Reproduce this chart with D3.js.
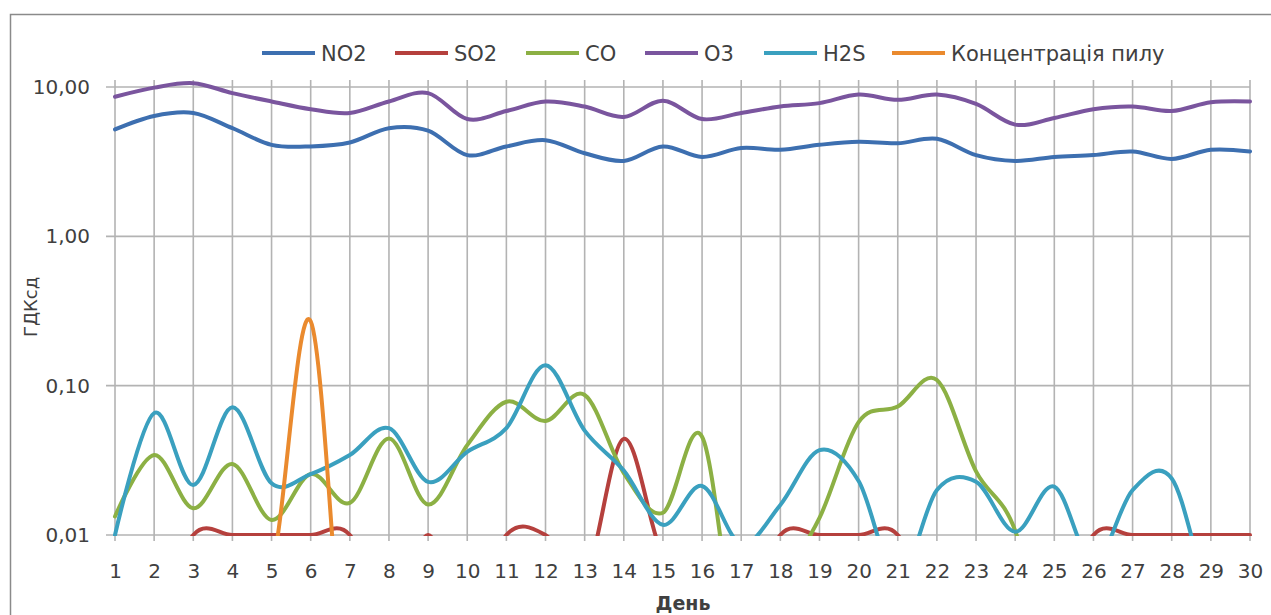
<!DOCTYPE html>
<html>
<head>
<meta charset="utf-8">
<script src="https://cdn.jsdelivr.net/npm/d3@7"></script>
<style>
  body { margin: 0; background: #fff; }
  text { font-family: "DejaVu Sans", sans-serif; fill: #404040; }
</style>
</head>
<body>
<div id="chart"></div>
<script>
// DATA ------------------------------------------------
// Days of the month (x categories)
const days = [1, 2, 3, 4, 5, 6, 7, 8, 9, 10, 11, 12, 13, 14, 15,
              16, 17, 18, 19, 20, 21, 22, 23, 24, 25, 26, 27, 28, 29, 30];

// Concentrations in ГДКсд (values below 0,01 fall under the axis and get clipped)
const no2 = [5.2, 6.4, 6.7, 5.3, 4.1, 4.0, 4.25, 5.3, 5.1, 3.5, 4.0, 4.4, 3.6, 3.2, 4.0,
             3.4, 3.9, 3.8, 4.1, 4.3, 4.2, 4.5, 3.5, 3.2, 3.4, 3.5, 3.7, 3.3, 3.8, 3.7];
const so2 = [0.0025, 0.0025, 0.01, 0.01, 0.01, 0.01, 0.01, 0.0025, 0.01, 0.0025, 0.01, 0.01, 0.0052, 0.044, 0.0072,
             0.005, 0.0025, 0.01, 0.01, 0.01, 0.01, 0.0025, 0.0025, 0.0025, 0.0025, 0.01, 0.01, 0.01, 0.01, 0.01];
const co  = [0.0133, 0.0343, 0.0151, 0.0299, 0.0126, 0.0256, 0.0164, 0.0443, 0.016, 0.040, 0.078, 0.058, 0.0866, 0.026, 0.0141,
             0.0455, 0.0015, 0.0047, 0.013, 0.057, 0.0724, 0.109, 0.0267, 0.0107, 0.001, 0.001, 0.001, 0.001, 0.001, 0.001];
const o3  = [8.6, 9.9, 10.6, 9.1, 8.0, 7.1, 6.7, 8.0, 9.1, 6.1, 6.9, 8.0, 7.4, 6.3, 8.1,
             6.1, 6.7, 7.4, 7.8, 8.9, 8.2, 8.9, 7.7, 5.6, 6.2, 7.1, 7.4, 6.9, 7.9, 8.0];
const h2s = [0.01, 0.0655, 0.0216, 0.0716, 0.0222, 0.0256, 0.0343, 0.0519, 0.0227, 0.036, 0.052, 0.137, 0.050, 0.027, 0.0117,
             0.0213, 0.0087, 0.0159, 0.037, 0.023, 0.005, 0.020, 0.0227, 0.0105, 0.0211, 0.0065, 0.020, 0.0239, 0.004, 0.004];
const dust = [0.006, 0.006, 0.006, 0.006, 0.006, 0.27, 0.0005, 0.0005, 0.0005, 0.0005, 0.0005, 0.0005, 0.0005, 0.0005, 0.0005,
              0.0005, 0.0005, 0.0005, 0.0005, 0.0005, 0.0005, 0.0005, 0.0005, 0.0005, 0.0005, 0.0005, 0.0005, 0.0005, 0.0005, 0.0005];

const seriesNames = ["NO2", "SO2", "CO", "O3", "H2S", "Концентрація пилу"];
const seriesColors = ["#3d6fb0", "#b5403d", "#8cb044", "#7a559e", "#3aa0bf", "#ea8a2e"];
const yTicks = [0.01, 0.1, 1, 10];

// Series table built from the arrays above (drawing order matches Excel)
const series = [no2, so2, co, o3, h2s, dust].map((vals, i) => ({
    name: seriesNames[i],
    color: seriesColors[i],
    values: vals.map((v, j) => ({day: days[j], v: v}))
}));

// LAYOUT ----------------------------------------------
const width = 1271, height = 615;
const plot = {left: 115, right: 1250, top: 80, bottom: 535};

const svg = d3.select("#chart").append("svg")
    .attr("width", width)
    .attr("height", height);

const x = d3.scaleLinear().domain([1, 30]).range([plot.left, plot.right]);
const y = d3.scaleLog().domain([0.01, 10]).range([plot.bottom, 87]);

const uaFormat = d3.formatLocale({decimal: ",", thousands: " ", grouping: [3], currency: ["", ""]}).format(".2f");

// Chart area border (only left and top edges fall inside the picture)
svg.append("rect")
    .attr("x", 10.5).attr("y", 14.5)
    .attr("width", width + 20).attr("height", height + 20)
    .attr("fill", "none")
    .attr("stroke", "#8a8a8a")
    .attr("stroke-width", 1.5);

// Gridlines
const grid = svg.append("g").attr("class", "grid");
grid.selectAll("line.h")
    .data(yTicks)
    .join("line")
    .attr("class", "h")
    .attr("x1", plot.left - 9).attr("x2", plot.right)
    .attr("y1", d => y(d)).attr("y2", d => y(d))
    .attr("stroke", "#b3b3b3").attr("stroke-width", 1.6);
grid.selectAll("line.v")
    .data(days)
    .join("line")
    .attr("class", "v")
    .attr("x1", d => x(d)).attr("x2", d => x(d))
    .attr("y1", plot.top).attr("y2", plot.bottom + 6)
    .attr("stroke", "#b3b3b3").attr("stroke-width", 1.6);

// Axes (labels only, lines come from the grid)
const yAxis = svg.append("g")
    .attr("transform", `translate(${plot.left},0)`)
    .call(d3.axisLeft(y).tickValues(yTicks).tickFormat(uaFormat).tickSize(0).tickPadding(25));
const xAxis = svg.append("g")
    .attr("transform", `translate(0,${plot.bottom})`)
    .call(d3.axisBottom(x).tickValues(days).tickFormat(d3.format("d")).tickSize(0).tickPadding(29));
[yAxis, xAxis].forEach(a => {
    a.select(".domain").remove();
    a.selectAll("text").attr("font-size", 20).attr("fill", "#404040")
        .style("font-family", '"DejaVu Sans", sans-serif');
});

// Axis titles
svg.append("text")
    .attr("transform", "translate(37,307) rotate(-90)")
    .attr("text-anchor", "middle")
    .attr("font-size", 18)
    .text("ГДКсд");
svg.append("text")
    .attr("x", 683).attr("y", 610)
    .attr("text-anchor", "middle")
    .attr("font-size", 19)
    .attr("font-weight", "bold")
    .text("День");

// Clip lines to the plot area
svg.append("clipPath").attr("id", "plotClip")
    .append("rect")
    .attr("x", plot.left - 5).attr("y", plot.top - 2)
    .attr("width", plot.right - plot.left + 10)
    .attr("height", plot.bottom - plot.top + 3);

// Smoothed lines, like Excel's "smoothed line" option
const line = d3.line()
    .x(d => x(d.day))
    .y(d => y(d.v))
    .curve(d3.curveCardinal.tension(0));

svg.append("g")
    .attr("clip-path", "url(#plotClip)")
    .selectAll("path")
    .data(series)
    .join("path")
    .attr("d", d => line(d.values))
    .attr("fill", "none")
    .attr("stroke", d => d.color)
    .attr("stroke-width", 4)
    .attr("stroke-linejoin", "round")
    .attr("stroke-linecap", "round");

// Legend
const legendX = [262, 395, 526, 645, 764, 892];
const legend = svg.append("g").selectAll("g")
    .data(series)
    .join("g")
    .attr("transform", (d, i) => `translate(${legendX[i]},53)`);
legend.append("line")
    .attr("x1", 0).attr("x2", 53)
    .attr("stroke", d => d.color)
    .attr("stroke-width", 4);
legend.append("text")
    .attr("x", 59).attr("y", 7.5)
    .attr("font-size", 21)
    .text(d => d.name);
</script>
</body>
</html>
